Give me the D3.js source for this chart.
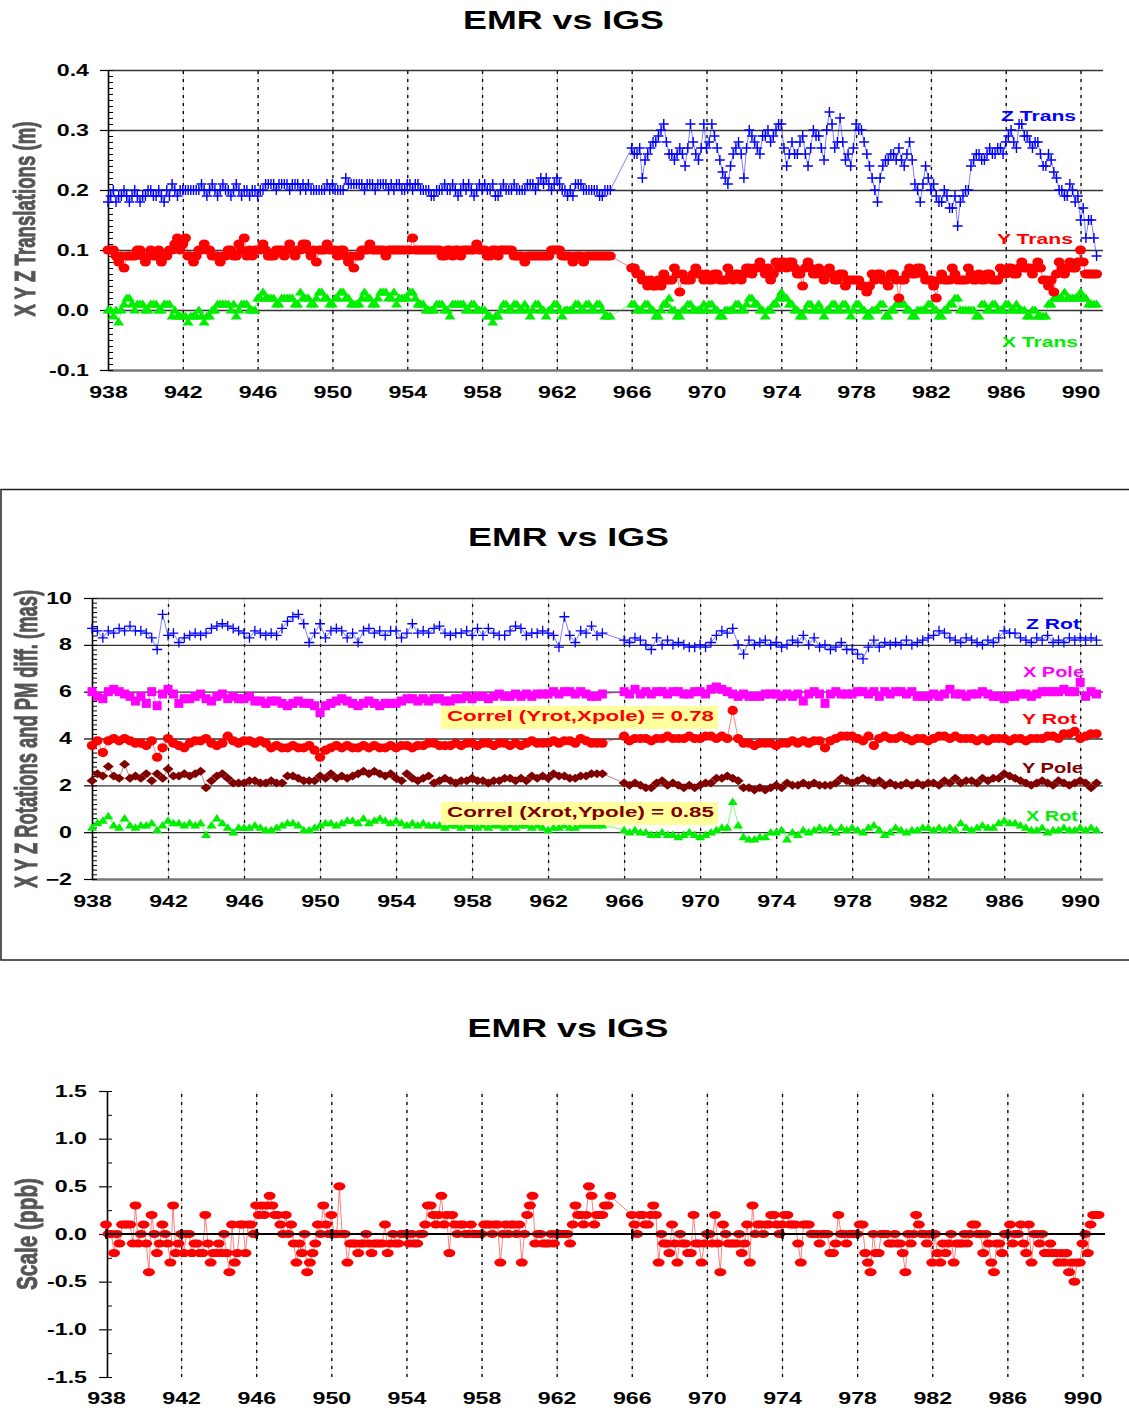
<!DOCTYPE html>
<html>
<head>
<meta charset="utf-8">
<script src="https://cdn.jsdelivr.net/npm/d3@7"></script>
<style>
  body { margin: 0; background: #fff; }
  svg  { display: block; }
</style>
</head>
<body>
<svg id="chart" width="1129" height="1410"></svg>
<script>
'use strict';

// ── Data (GPS week axis; two segments, 938.0–964.9 and 966.0–990.9) ──
const SEG_START = [938, 966];
const DAILY     = 1 / 7;   // translations and scale: one value per day
const BIDAILY   = 2 / 7;   // rotations: one value every 2 days

const weekTicks  = [938, 942, 946, 950, 954, 958, 962, 966, 970, 974, 978, 982, 986, 990];
const transTicks = [-0.1, 0.0, 0.1, 0.2, 0.3, 0.4];
const rotTicks   = [-2, 0, 2, 4, 6, 8, 10];
const scaleTicks = [-1.5, -1.0, -0.5, 0.0, 0.5, 1.0, 1.5];

// translations (m), daily
const zTrans = [
  [0.18,0.19,0.20,0.18,0.19,0.19,0.20,0.19,0.18,0.19,0.20,0.19,0.18,0.19,0.19,0.20,0.20,0.19,0.19,0.20,0.19,0.18,0.20,0.19,0.21,0.20,0.19,0.20,
   0.20,0.20,0.20,0.20,0.20,0.20,0.20,0.21,0.20,0.19,0.20,0.21,0.20,0.19,0.20,0.21,0.20,0.20,0.19,0.20,0.21,0.20,0.19,0.20,0.20,0.19,0.20,0.20,
   0.19,0.20,0.20,0.21,0.21,0.21,0.21,0.20,0.21,0.21,0.21,0.21,0.20,0.21,0.21,0.21,0.20,0.21,0.20,0.21,0.20,0.20,0.20,0.20,0.20,0.20,0.21,0.20,
   0.21,0.20,0.20,0.20,0.20,0.22,0.21,0.21,0.21,0.21,0.21,0.21,0.20,0.21,0.21,0.21,0.20,0.21,0.21,0.21,0.21,0.20,0.21,0.20,0.21,0.21,0.20,0.20,
   0.21,0.21,0.20,0.21,0.21,0.20,0.20,0.20,0.20,0.19,0.19,0.20,0.20,0.20,0.21,0.20,0.20,0.21,0.20,0.19,0.20,0.21,0.20,0.21,0.20,0.19,0.20,0.21,
   0.20,0.21,0.20,0.20,0.21,0.19,0.19,0.20,0.21,0.20,0.20,0.20,0.21,0.20,0.20,0.20,0.20,0.21,0.21,0.21,0.20,0.21,0.22,0.21,0.22,0.21,0.20,0.21,
   0.22,0.21,0.20,0.20,0.19,0.20,0.19,0.21,0.21,0.21,0.20,0.20,0.20,0.20,0.20,0.20,0.19,0.19,0.20,0.20,0.20],
  [0.27,0.26,0.26,0.27,0.22,0.25,0.26,0.27,0.28,0.28,0.29,0.30,0.31,0.28,0.26,0.26,0.25,0.26,0.27,0.26,0.24,0.27,0.31,0.28,0.26,0.25,0.27,0.31,
   0.27,0.28,0.31,0.29,0.27,0.25,0.23,0.22,0.21,0.24,0.26,0.27,0.28,0.26,0.22,0.27,0.30,0.29,0.28,0.27,0.26,0.29,0.29,0.30,0.28,0.29,0.30,0.31,
   0.31,0.27,0.24,0.26,0.28,0.26,0.26,0.28,0.29,0.26,0.24,0.27,0.30,0.29,0.29,0.27,0.25,0.30,0.33,0.31,0.27,0.28,0.32,0.28,0.25,0.26,0.24,0.27,
   0.31,0.30,0.30,0.28,0.26,0.24,0.22,0.20,0.18,0.22,0.24,0.25,0.25,0.26,0.26,0.25,0.27,0.25,0.24,0.26,0.28,0.25,0.21,0.20,0.18,0.21,0.24,0.22,
   0.20,0.21,0.19,0.18,0.18,0.20,0.19,0.17,0.17,0.19,0.14,0.18,0.19,0.20,0.20,0.24,0.25,0.26,0.26,0.25,0.25,0.26,0.27,0.26,0.26,0.27,0.27,0.26,
   0.28,0.29,0.30,0.28,0.27,0.31,0.31,0.29,0.29,0.28,0.27,0.28,0.28,0.26,0.24,0.24,0.26,0.25,0.23,0.22,0.20,0.20,0.19,0.19,0.21,0.20,0.18,0.19,
   0.15,0.17,0.12,0.15,0.15,0.12,0.09]
];
const yTrans = [
  [0.10,0.10,0.10,0.09,0.08,0.09,0.07,0.09,0.09,0.09,0.09,0.10,0.10,0.09,0.08,0.09,0.10,0.09,0.09,0.10,0.08,0.09,0.09,0.10,0.10,0.11,0.12,0.10,
   0.11,0.12,0.09,0.09,0.08,0.09,0.10,0.10,0.11,0.10,0.10,0.09,0.09,0.09,0.08,0.09,0.09,0.10,0.10,0.09,0.09,0.11,0.10,0.12,0.09,0.10,0.09,0.10,
   0.10,0.10,0.11,0.10,0.09,0.09,0.09,0.10,0.10,0.10,0.09,0.10,0.11,0.10,0.09,0.10,0.10,0.11,0.11,0.10,0.09,0.10,0.08,0.10,0.10,0.10,0.11,0.10,
   0.10,0.10,0.09,0.10,0.10,0.09,0.08,0.09,0.07,0.09,0.09,0.10,0.10,0.10,0.11,0.10,0.10,0.10,0.10,0.10,0.09,0.10,0.10,0.10,0.10,0.10,0.10,0.10,
   0.10,0.10,0.12,0.10,0.10,0.10,0.10,0.10,0.10,0.10,0.10,0.10,0.10,0.09,0.09,0.10,0.10,0.09,0.10,0.10,0.09,0.10,0.10,0.10,0.10,0.10,0.11,0.10,
   0.10,0.10,0.09,0.09,0.10,0.10,0.09,0.10,0.10,0.10,0.10,0.10,0.09,0.09,0.09,0.09,0.08,0.09,0.09,0.09,0.09,0.09,0.09,0.09,0.09,0.09,0.10,0.10,
   0.10,0.10,0.09,0.09,0.09,0.09,0.08,0.09,0.09,0.09,0.08,0.09,0.09,0.09,0.09,0.09,0.09,0.09,0.09,0.09,0.09],
  [0.07,0.07,0.06,0.06,0.05,0.05,0.04,0.05,0.04,0.04,0.05,0.04,0.06,0.05,0.05,0.05,0.07,0.06,0.03,0.06,0.05,0.05,0.05,0.06,0.07,0.06,0.06,0.05,
   0.06,0.05,0.05,0.06,0.06,0.05,0.05,0.05,0.07,0.06,0.05,0.06,0.06,0.05,0.06,0.07,0.07,0.06,0.07,0.07,0.08,0.07,0.06,0.07,0.05,0.06,0.08,0.07,
   0.08,0.08,0.07,0.08,0.08,0.07,0.06,0.06,0.04,0.07,0.08,0.07,0.06,0.06,0.07,0.06,0.05,0.06,0.07,0.06,0.05,0.05,0.06,0.06,0.04,0.05,0.05,0.05,
   0.05,0.05,0.04,0.04,0.03,0.04,0.06,0.05,0.06,0.06,0.05,0.05,0.04,0.06,0.06,0.05,0.02,0.05,0.05,0.06,0.07,0.06,0.06,0.07,0.07,0.06,0.05,0.05,
   0.05,0.04,0.02,0.05,0.06,0.05,0.05,0.05,0.07,0.06,0.05,0.05,0.05,0.05,0.07,0.06,0.05,0.05,0.06,0.05,0.05,0.06,0.06,0.05,0.05,0.05,0.07,0.06,
   0.06,0.07,0.07,0.06,0.06,0.07,0.08,0.07,0.07,0.07,0.06,0.07,0.08,0.07,0.05,0.05,0.04,0.05,0.03,0.06,0.08,0.07,0.06,0.07,0.08,0.07,0.07,0.08,
   0.10,0.08,0.06,0.06,0.06,0.06,0.06]
];
const xTrans = [
  [0.00,0.00,-0.01,0.00,-0.02,0.00,0.01,0.02,0.02,0.01,0.00,0.01,0.01,0.01,0.00,0.00,0.01,0.01,0.01,0.00,0.00,0.01,0.01,0.01,-0.01,0.00,-0.01,-0.01,
   -0.01,-0.01,-0.02,-0.01,-0.01,-0.01,0.00,-0.01,-0.02,-0.01,-0.01,0.00,0.00,0.01,0.01,0.01,0.01,0.01,0.00,0.01,-0.01,0.00,0.01,0.01,0.01,0.00,0.00,0.00,
   0.02,0.02,0.03,0.02,0.02,0.02,0.02,0.01,0.01,0.02,0.02,0.02,0.02,0.02,0.01,0.01,0.03,0.02,0.02,0.02,0.01,0.01,0.02,0.03,0.03,0.02,0.02,0.01,
   0.01,0.02,0.02,0.03,0.03,0.02,0.02,0.01,0.01,0.01,0.01,0.02,0.03,0.02,0.02,0.01,0.01,0.02,0.03,0.03,0.03,0.02,0.02,0.03,0.01,0.02,0.02,0.02,
   0.02,0.03,0.03,0.02,0.01,0.01,0.01,0.00,0.00,0.00,0.00,0.01,0.01,0.01,0.00,0.00,-0.01,0.01,0.01,0.01,0.01,0.01,0.00,0.00,0.01,0.01,0.00,0.00,
   0.00,0.00,-0.01,-0.01,-0.02,-0.01,-0.01,0.00,0.01,0.01,0.00,0.00,0.01,0.01,0.00,0.00,0.01,0.00,-0.01,0.00,0.01,0.01,0.00,0.00,-0.01,0.00,0.00,0.01,
   0.01,0.00,-0.01,0.00,0.00,0.00,0.00,0.01,0.01,0.00,0.00,0.01,0.01,0.00,0.00,0.01,0.01,0.00,-0.01,-0.01,-0.01],
  [0.01,0.01,0.00,0.00,0.00,0.01,0.01,0.00,0.00,-0.01,-0.01,0.00,0.01,0.01,0.02,0.00,0.00,-0.01,-0.01,0.00,0.00,0.01,0.01,0.00,0.00,0.00,0.00,0.01,
   0.00,0.01,0.01,0.00,0.00,-0.01,-0.01,0.00,0.00,0.00,0.00,0.01,0.01,0.00,0.00,0.01,0.02,0.02,0.01,0.01,0.00,0.00,-0.01,0.00,0.00,0.01,0.01,0.02,
   0.03,0.02,0.02,0.01,0.01,0.00,0.00,-0.01,-0.01,0.00,0.01,0.01,0.00,0.00,0.01,0.00,-0.01,0.00,0.00,0.01,0.01,0.00,0.00,0.01,0.01,0.00,-0.01,0.00,
   0.01,0.01,0.00,0.00,-0.01,-0.01,0.00,0.00,0.00,0.01,0.01,-0.01,-0.01,0.00,0.00,0.01,0.01,0.01,0.01,0.00,0.00,-0.01,-0.01,0.00,0.00,0.00,0.00,0.01,
   0.01,0.00,0.00,-0.01,-0.01,0.00,0.00,0.01,0.01,0.02,0.02,0.00,0.00,0.00,0.00,0.00,0.00,-0.01,-0.01,0.01,0.01,0.00,0.00,0.01,0.01,0.00,0.00,0.00,
   0.01,0.01,0.00,0.00,0.01,0.00,0.00,0.00,-0.01,-0.01,0.00,0.00,-0.01,-0.01,-0.01,-0.01,0.01,0.01,0.02,0.02,0.02,0.02,0.03,0.02,0.02,0.02,0.02,0.02,
   0.03,0.02,0.02,0.01,0.01,0.01,0.01]
];

// rotations and pole differences (mas), every 2 days
const zRot = [
  [8.7,8.6,8.3,8.6,8.5,8.7,8.6,8.8,8.6,8.6,8.5,8.3,7.8,9.3,
   8.4,8.5,8.1,8.3,8.4,8.5,8.4,8.5,8.7,8.8,8.9,8.8,8.7,8.6,
   8.5,8.3,8.6,8.5,8.4,8.5,8.4,8.7,9.0,9.2,9.3,8.9,8.1,8.5,
   8.9,8.3,8.6,8.7,8.6,8.3,8.5,8.1,8.6,8.7,8.5,8.6,8.4,8.6,
   8.6,8.3,8.5,8.9,8.5,8.6,8.5,8.7,8.8,8.5,8.4,8.5,8.5,8.6,
   8.4,8.7,8.4,8.7,8.5,8.4,8.4,8.6,8.8,8.7,8.4,8.5,8.5,8.6,
   8.5,8.4,7.9,9.2,8.4,8.1,8.6,8.5,8.8,8.4,8.5],
  [8.2,8.1,8.3,8.2,8.0,7.8,8.3,8.0,8.2,8.0,8.1,8.0,7.9,7.9,
   8.0,7.9,8.1,8.4,8.6,8.5,8.7,8.0,7.6,8.2,8.0,8.1,8.2,8.0,
   8.1,7.9,8.0,8.2,8.1,8.4,8.0,8.3,7.9,8.0,7.8,7.9,8.1,7.8,
   7.8,7.6,7.4,7.9,8.2,7.9,8.1,8.0,8.1,8.0,8.2,8.0,8.1,8.2,
   8.3,8.4,8.6,8.5,8.3,8.2,8.1,8.3,8.2,8.1,8.0,8.2,8.1,8.3,
   8.6,8.5,8.5,8.3,8.2,8.1,8.3,8.2,8.4,8.1,8.2,8.1,8.3,8.2,
   8.3,8.2,8.3,8.2]
];
const xPole = [
  [6.0,5.8,5.7,6.0,6.1,6.0,5.9,5.8,5.6,5.8,5.5,6.0,5.4,5.9,
   6.1,5.9,5.5,5.7,5.7,5.8,5.9,5.7,5.6,5.8,5.9,5.7,5.8,5.7,
   5.7,5.8,5.6,5.6,5.5,5.6,5.6,5.5,5.4,5.5,5.6,5.5,5.5,5.4,
   5.1,5.4,5.5,5.6,5.7,5.6,5.5,5.4,5.5,5.6,5.5,5.4,5.5,5.5,
   5.5,5.6,5.7,5.7,5.6,5.7,5.6,5.7,5.7,5.6,5.6,5.7,5.7,5.8,
   5.7,5.8,5.8,5.7,5.8,5.9,5.8,5.8,5.9,5.8,5.9,5.8,5.9,5.9,
   5.9,6.0,5.9,6.0,6.0,5.9,6.0,5.9,5.8,5.8,5.9],
  [6.0,5.9,6.1,5.9,6.0,5.9,6.0,6.0,5.9,6.0,6.0,5.9,5.9,6.0,
   6.0,5.9,6.1,6.2,6.1,6.0,5.9,5.8,5.9,5.8,5.8,5.8,5.9,5.9,
   5.9,5.8,5.9,5.8,5.9,5.6,5.9,6.0,5.9,5.5,5.9,6.0,5.9,5.9,
   5.9,6.0,6.0,5.9,6.0,5.8,6.0,5.9,6.0,6.0,5.9,6.0,5.8,5.8,
   5.8,5.9,5.8,5.9,6.1,5.9,5.9,5.8,5.9,5.9,6.0,5.9,5.8,5.8,
   5.7,5.8,5.8,5.9,5.9,5.8,5.9,6.0,6.0,6.0,6.0,6.1,6.0,6.0,
   6.4,5.8,6.0,5.9]
];
const yRot = [
  [3.7,3.9,3.4,3.9,4.0,3.9,4.0,3.9,3.8,3.8,3.7,3.9,3.2,3.6,
   4.0,3.8,3.7,3.6,3.8,3.9,3.9,4.0,3.8,3.7,3.8,4.1,3.9,3.8,
   3.9,3.9,3.8,3.9,3.8,3.6,3.7,3.6,3.6,3.7,3.6,3.6,3.7,3.5,
   3.2,3.5,3.6,3.7,3.6,3.7,3.6,3.6,3.7,3.6,3.7,3.6,3.6,3.7,
   3.6,3.7,3.7,3.6,3.7,3.7,3.8,3.8,3.7,3.7,3.7,3.8,3.7,3.8,
   3.8,3.7,3.8,3.8,3.7,3.8,3.8,3.7,3.8,3.7,3.8,3.9,3.8,3.8,
   3.8,3.9,3.8,3.9,3.9,3.8,4.0,3.9,3.8,3.8,3.8],
  [4.1,3.9,4.0,4.0,4.0,3.9,4.0,4.0,4.1,4.0,4.0,4.0,4.1,4.0,
   4.0,4.1,4.1,4.0,4.1,4.0,5.2,4.0,3.8,3.8,3.7,3.8,3.8,3.8,
   3.7,3.8,3.8,3.9,3.8,3.9,3.8,3.9,3.9,3.6,3.9,4.0,4.1,4.1,
   4.1,4.0,3.9,4.1,3.7,4.0,4.1,4.0,4.0,4.1,4.0,3.9,4.0,4.0,
   3.9,4.0,4.1,4.1,4.0,4.1,4.0,4.0,4.0,3.9,4.0,3.9,4.0,4.0,
   4.0,3.9,4.0,4.0,3.9,4.0,4.0,4.0,4.1,4.1,4.0,4.2,4.2,4.3,
   4.0,4.1,4.2,4.2]
];
const yPole = [
  [2.2,2.5,2.4,2.8,2.4,2.3,2.9,2.3,2.4,2.3,2.5,2.2,2.5,2.3,
   2.7,2.4,2.4,2.5,2.4,2.5,2.6,1.9,2.2,2.4,2.5,2.3,2.1,2.1,
   2.1,2.2,2.2,2.1,2.1,2.2,2.1,2.1,2.4,2.4,2.3,2.2,2.2,2.2,
   2.4,2.3,2.5,2.3,2.4,2.3,2.4,2.5,2.6,2.5,2.6,2.5,2.4,2.5,
   2.3,2.2,2.5,2.3,2.2,2.3,2.4,2.1,2.2,2.3,2.2,2.1,2.2,2.2,
   2.3,2.2,2.2,2.1,2.2,2.2,2.3,2.3,2.2,2.3,2.2,2.4,2.3,2.4,
   2.3,2.5,2.4,2.4,2.3,2.3,2.4,2.4,2.5,2.5,2.5],
  [2.1,2.0,2.1,2.0,1.9,1.9,2.1,2.2,2.0,2.1,2.0,1.9,2.0,1.9,
   2.0,2.1,2.1,2.3,2.3,2.4,2.3,2.2,1.9,1.9,1.8,1.9,1.8,1.9,
   2.0,1.9,2.1,2.0,2.0,2.1,2.0,2.1,2.0,2.0,2.0,2.1,2.3,2.2,
   2.1,2.2,2.3,2.2,2.1,2.2,2.0,2.1,2.0,2.0,2.1,2.0,2.1,2.0,
   2.1,2.1,2.0,2.2,2.1,2.3,2.1,2.2,2.2,2.1,2.3,2.2,2.3,2.3,
   2.5,2.4,2.3,2.2,2.1,2.0,2.1,2.2,2.1,2.0,2.2,2.1,2.0,2.1,
   2.2,2.1,1.9,2.1]
];
const xRot = [
  [0.2,0.4,0.5,0.7,0.3,0.2,0.6,0.3,0.2,0.3,0.3,0.4,0.1,0.3,
   0.5,0.4,0.4,0.3,0.4,0.3,0.4,-0.1,0.3,0.6,0.4,0.2,0.0,0.2,
   0.2,0.2,0.3,0.2,0.1,0.1,0.2,0.3,0.4,0.4,0.3,0.1,0.1,0.2,
   0.3,0.4,0.4,0.3,0.4,0.5,0.5,0.4,0.6,0.4,0.5,0.6,0.5,0.4,
   0.5,0.4,0.3,0.4,0.3,0.4,0.3,0.3,0.3,0.2,0.3,0.3,0.2,0.3,
   0.3,0.2,0.3,0.2,0.3,0.3,0.2,0.3,0.2,0.3,0.3,0.2,0.3,0.2,
   0.1,0.2,0.2,0.3,0.2,0.2,0.3,0.3,0.3,0.3,0.3],
  [0.1,0.0,0.1,0.0,0.0,-0.1,-0.1,0.0,-0.1,-0.1,-0.2,-0.1,0.0,-0.1,
   -0.2,-0.1,0.0,0.1,0.2,0.2,1.3,0.3,-0.2,-0.3,-0.3,-0.2,-0.2,0.0,
   0.0,0.1,-0.3,0.0,-0.1,0.1,0.0,0.1,0.2,0.1,0.2,0.0,0.2,0.1,
   0.2,0.1,0.0,0.2,0.3,0.1,-0.1,0.0,0.2,0.1,0.0,0.1,0.1,0.2,
   0.2,0.1,0.2,0.1,0.2,0.1,0.4,0.2,0.1,0.2,0.3,0.2,0.2,0.4,
   0.5,0.4,0.4,0.3,0.2,0.1,0.1,0.2,0.0,0.1,0.1,0.2,0.1,0.1,
   0.2,0.1,0.2,0.1]
];

// scale (ppb), daily
const scalePpb = [
  [0.1,0.0,0.0,-0.2,0.0,-0.1,0.1,0.1,0.1,0.1,-0.1,0.3,-0.1,0.0,0.1,-0.1,-0.4,0.2,0.0,-0.2,-0.1,0.1,0.0,-0.1,-0.3,0.3,-0.2,-0.1,
   0.0,-0.2,0.0,0.0,-0.2,-0.1,-0.1,-0.2,-0.2,0.2,-0.1,-0.3,-0.2,-0.2,-0.1,-0.2,0.0,-0.2,-0.4,0.1,-0.3,-0.2,0.1,0.1,-0.2,0.1,0.1,0.0,
   0.3,0.2,0.3,0.2,0.3,0.4,0.3,0.2,0.2,0.1,0.0,0.2,0.0,0.1,-0.1,-0.3,-0.1,-0.2,0.0,-0.4,-0.3,-0.2,-0.1,0.1,0.0,0.3,0.1,0.0,
   0.2,0.0,0.0,0.5,0.0,0.0,-0.3,-0.1,-0.1,-0.1,-0.2,-0.1,-0.1,0.0,-0.1,-0.2,-0.1,-0.1,-0.1,-0.1,0.1,-0.2,-0.1,0.0,-0.1,-0.1,0.0,0.0,
   0.0,-0.1,0.0,-0.1,-0.1,0.0,0.0,0.1,0.3,0.3,0.2,0.1,0.2,0.4,0.1,0.2,-0.2,0.2,0.1,0.0,0.1,0.1,0.0,0.0,0.1,0.0,0.0,0.0,
   0.0,0.1,0.1,0.1,0.0,0.1,0.1,-0.3,0.0,0.1,0.0,0.1,0.1,0.0,0.1,-0.3,0.0,0.2,0.3,0.4,-0.1,0.0,0.0,-0.1,-0.1,-0.1,0.0,-0.1,
   0.0,0.0,0.0,0.0,0.0,-0.1,0.1,0.3,0.2,0.2,0.1,0.2,0.5,0.4,0.1,0.2,0.2,0.2,0.3,0.3,0.4],
  [0.2,0.1,0.0,0.2,0.2,0.1,0.1,0.2,0.3,0.2,-0.3,0.0,-0.1,-0.1,-0.2,0.1,-0.1,-0.3,0.0,-0.1,-0.1,-0.2,-0.2,0.2,-0.1,-0.1,-0.3,-0.1,
   0.0,0.0,-0.1,0.2,-0.1,-0.4,0.1,0.0,-0.1,-0.1,-0.1,-0.1,0.0,-0.2,-0.1,0.1,-0.3,0.3,0.0,0.1,0.1,0.0,0.1,0.1,0.2,0.2,0.1,0.0,
   0.1,0.2,0.2,0.1,0.1,0.1,-0.1,-0.3,0.1,0.1,0.1,0.0,0.0,0.0,-0.1,0.0,0.0,0.0,-0.2,-0.2,-0.1,0.2,0.0,0.0,-0.1,0.0,0.0,0.0,
   0.0,0.1,0.1,-0.2,-0.3,-0.4,0.0,-0.2,-0.2,0.0,0.0,0.0,-0.1,-0.1,0.0,-0.1,-0.1,-0.2,-0.4,0.0,-0.1,0.0,0.2,0.1,0.0,0.0,-0.1,0.0,
   -0.3,0.0,-0.2,-0.3,-0.1,-0.2,-0.1,0.0,-0.3,-0.1,-0.1,-0.1,0.0,-0.1,0.0,0.1,0.1,0.0,0.0,-0.2,0.0,-0.1,-0.3,-0.4,-0.1,-0.1,-0.2,0.0,
   0.0,0.1,-0.1,0.0,0.0,0.1,-0.1,-0.2,0.1,-0.3,0.0,0.0,-0.1,0.0,-0.2,-0.2,-0.1,-0.2,-0.2,-0.3,-0.2,-0.3,-0.2,-0.4,-0.3,-0.5,-0.3,-0.3,
   -0.1,0.0,-0.2,0.1,0.2,0.2,0.2]
];

// ── Styling constants ───────────────────────────────────────────
const FONT   = '"Liberation Sans", Arial, Helvetica, sans-serif';
const NARROW = '"Liberation Sans Narrow", "Arial Narrow", "Liberation Sans", sans-serif';
const BLUE = '#0000ff', RED = '#ff0000', GREEN = '#00ee00', MAGENTA = '#ff00ff', MAROON = '#800000';
const STRETCH = 1.45;   // tick labels in the original are horizontally widened

const MARK = {
  plus:    r => `M${-r},0H${r}M0,${-r}V${r}`,
  oval:    (rx, ry) => `M${-rx},0a${rx},${ry} 0 1,0 ${2 * rx},0a${rx},${ry} 0 1,0 ${-2 * rx},0Z`,
  tri:     (hw, h) => `M0,${-h * 0.55}L${hw},${h * 0.45}L${-hw},${h * 0.45}Z`,
  square:  r => `M${-r},${-r}H${r}V${r}H${-r}Z`,
  diamond: (hw, hh) => `M0,${-hh}L${hw},0L0,${hh}L${-hw},0Z`,
};

const svg = d3.select('#chart');

svg.append('defs').append('filter').attr('id', 'soft')
  .append('feGaussianBlur').attr('stdDeviation', 0.7);

function toPoints(segs, step) {
  return segs.flatMap((vals, s) => vals.map((v, i) => ({ w: SEG_START[s] + i * step, v })));
}

// ── Helpers ─────────────────────────────────────────────────────
function styleAxisText(g, size) {
  g.attr('font-family', FONT).attr('font-size', size).attr('font-weight', 'bold');
  g.selectAll('text').attr('fill', '#000').each(function() {
    const t = d3.select(this);
    const x = +t.attr('x') || 0;
    t.attr('x', x / STRETCH).attr('transform', `scale(${STRETCH},1)`);
  });
}

function vGrid(parent, x, top, bottom) {
  const g = parent.append('g').attr('transform', `translate(0,${bottom})`)
    .call(d3.axisBottom(x).tickValues(weekTicks.slice(1)).tickSize(-(bottom - top)).tickFormat(''));
  g.select('.domain').remove();
  g.selectAll('.tick line').attr('stroke', '#cfcfcf').attr('stroke-width', 1);
  g.selectAll('.tick').append('line')
    .attr('y2', -(bottom - top))
    .attr('stroke', '#000').attr('stroke-width', 1.3).attr('stroke-dasharray', '3,5');
}

function hGrid(parent, y, ticks, left, right, bottomVal) {
  const g = parent.append('g').attr('transform', `translate(${left},0)`)
    .call(d3.axisLeft(y).tickValues(ticks).tickSize(-(right - left)).tickFormat(''));
  g.select('.domain').remove();
  g.selectAll('.tick line')
    .attr('stroke', d => d === bottomVal ? '#777' : '#333')
    .attr('stroke-width', d => d === bottomVal ? 2.5 : 1.3);
}

function yAxis(parent, y, ticks, minorTicks, left, fmt, gap) {
  parent.append('g').attr('transform', `translate(${left},0)`)
    .call(d3.axisLeft(y).tickValues(minorTicks).tickSize(-5).tickFormat(''))
    .call(g => g.select('.domain').remove())
    .selectAll('line').attr('stroke', '#000');
  const g = parent.append('g').attr('transform', `translate(${left},0)`)
    .call(d3.axisLeft(y).tickValues(ticks).tickFormat(fmt)
      .tickSizeInner(8).tickSizeOuter(0).tickPadding(gap - 8));
  g.select('.domain').attr('stroke', '#000').attr('stroke-width', 1.6);
  g.selectAll('.tick line').attr('stroke', '#000').attr('stroke-width', 1.2);
  styleAxisText(g, 16);
}

function xLabels(parent, x, bottom, offset) {
  const g = parent.append('g').attr('transform', `translate(0,${bottom})`)
    .call(d3.axisBottom(x).tickValues(weekTicks).tickSize(0).tickFormat(d3.format('d')));
  g.select('.domain').remove();
  g.selectAll('text').attr('y', offset).attr('dy', null);
  styleAxisText(g, 16);
}

function plotSeries(parent, x, y, segs, step, opt) {
  const pts = toPoints(segs, step);
  parent.append('path').datum(pts)
    .attr('d', d3.line().x(d => x(d.w)).y(d => y(d.v)))
    .attr('fill', 'none')
    .attr('stroke', opt.color).attr('stroke-opacity', 0.5).attr('stroke-width', 1);
  parent.append('g').selectAll('path')
    .data(pts)
    .join('path')
      .attr('transform', d => `translate(${x(d.w)},${y(d.v)})`)
      .attr('d', opt.shape)
      .attr('fill', opt.stroke ? 'none' : opt.color)
      .attr('stroke', opt.stroke ? opt.color : 'none')
      .attr('stroke-width', opt.stroke || 0);
}

function title(cx, baseline) {
  svg.append('text')
    .attr('x', cx).attr('y', baseline).attr('text-anchor', 'middle')
    .attr('font-family', FONT).attr('font-weight', 'bold').attr('font-size', 25)
    .attr('textLength', 201).attr('lengthAdjust', 'spacingAndGlyphs')
    .text('EMR vs IGS');
}

function yTitle(text, bx, cy, len, size) {
  svg.append('text')
    .attr('transform', `translate(${bx},${cy}) rotate(-90)`)
    .attr('text-anchor', 'middle')
    .attr('font-family', NARROW).attr('font-weight', 'bold').attr('font-size', size)
    .attr('fill', '#555').attr('stroke', '#555').attr('stroke-width', 0.9)
    .attr('filter', 'url(#soft)')
    .attr('textLength', len).attr('lengthAdjust', 'spacingAndGlyphs')
    .text(text);
}

function label(parent, text, x, baseline, width, color, size) {
  parent.append('text')
    .attr('x', x).attr('y', baseline)
    .attr('font-family', FONT).attr('font-weight', 'bold').attr('font-size', size || 15)
    .attr('fill', color)
    .attr('textLength', width).attr('lengthAdjust', 'spacingAndGlyphs')
    .text(text);
}

// ── Panel 1: translations ───────────────────────────────────────
{
  const L = 108, R = 1103, T = 70, B = 370;
  const x = d3.scaleLinear().domain([938, 991.2]).range([L, R]);
  const y = d3.scaleLinear().domain([-0.1, 0.4]).range([B, T]);
  const g = svg.append('g');

  vGrid(g, x, T, B);
  hGrid(g, y, transTicks, L, R, -0.1);
  yAxis(g, y, transTicks, d3.range(-10, 41).map(i => i / 100), L, d => d.toFixed(1), 19);
  xLabels(g, x, B, 28);

  plotSeries(g, x, y, xTrans, DAILY, { color: GREEN, shape: MARK.tri(5.5, 8) });
  plotSeries(g, x, y, yTrans, DAILY, { color: RED,   shape: MARK.oval(5.5, 4.5) });
  plotSeries(g, x, y, zTrans, DAILY, { color: BLUE,  shape: MARK.plus(5), stroke: 1.4 });

  label(g, 'Z Trans', 1001, 121, 75, BLUE);
  label(g, 'Y Trans', 997, 244, 76, RED);
  label(g, 'X Trans', 1002, 347, 76, GREEN);

  title(563.5, 29);
  yTitle('X Y Z Translations (m)', 35, 219, 195, 30);
}

// ── Panel 2: rotations and pole differences ─────────────────────
{
  svg.append('rect')
    .attr('x', 1).attr('y', 489.5).attr('width', 1140).attr('height', 470.5)
    .attr('fill', 'none').attr('stroke', '#222').attr('stroke-width', 1.5);

  const L = 92, R = 1103, T = 598, B = 879;
  const x = d3.scaleLinear().domain([938, 991.2]).range([L, R]);
  const y = d3.scaleLinear().domain([-2, 10]).range([B, T]);
  const g = svg.append('g');

  vGrid(g, x, T, B);
  hGrid(g, y, rotTicks, L, R, -2);
  yAxis(g, y, rotTicks, d3.range(-10, 51).map(i => i / 5), L, d3.format('d'), 20);
  xLabels(g, x, B, 28);

  plotSeries(g, x, y, xRot,  BIDAILY, { color: GREEN,   shape: MARK.tri(5, 7.5) });
  plotSeries(g, x, y, yPole, BIDAILY, { color: MAROON,  shape: MARK.diamond(5.5, 4.5) });
  plotSeries(g, x, y, yRot,  BIDAILY, { color: RED,     shape: MARK.oval(5.2, 4.6) });
  plotSeries(g, x, y, xPole, BIDAILY, { color: MAGENTA, shape: MARK.square(4.5) });
  plotSeries(g, x, y, zRot,  BIDAILY, { color: BLUE,    shape: MARK.plus(5), stroke: 1.3 });

  label(g, 'Z Rot',  1026, 629, 54, BLUE);
  label(g, 'X Pole', 1023, 677, 61, MAGENTA);
  label(g, 'Y Rot',  1022, 724, 55, RED);
  label(g, 'Y Pole', 1022, 773, 61, MAROON);
  label(g, 'X Rot',  1026, 821, 52, GREEN);

  g.append('rect').attr('x', 441).attr('y', 706).attr('width', 277).attr('height', 23).attr('fill', '#ffff9c');
  label(g, 'Correl (Yrot,Xpole) = 0.78', 447, 721, 267, RED, 14);
  g.append('rect').attr('x', 441).attr('y', 802).attr('width', 277).attr('height', 23).attr('fill', '#ffff9c');
  label(g, 'Correl (Xrot,Ypole) = 0.85', 447, 817, 267, MAROON, 14);

  title(568.5, 546);
  yTitle('X Y Z Rotations and PM diff. (mas)', 37, 739, 298, 32);
}

// ── Panel 3: scale ──────────────────────────────────────────────
{
  const L = 107, R = 1105, T = 1091, B = 1377;
  const x = d3.scaleLinear().domain([938, 991.2]).range([L - 1, R]);
  const y = d3.scaleLinear().domain([-1.5, 1.5]).range([B, T]);
  const g = svg.append('g');

  vGrid(g, x, T, B);
  yAxis(g, y, scaleTicks, d3.range(-6, 7).map(i => i / 4), L, d => d.toFixed(1), 20);
  xLabels(g, x, B, 27);

  plotSeries(g, x, y, scalePpb, DAILY, { color: RED, shape: MARK.oval(6, 4) });

  // x axis along zero
  const z = g.append('g').attr('transform', `translate(0,${y(0)})`)
    .call(d3.axisBottom(x).tickValues(weekTicks).tickSize(5).tickFormat(''));
  z.select('.domain').remove();
  z.selectAll('.tick line').attr('y1', -5).attr('y2', 5).attr('stroke', '#000').attr('stroke-width', 2.5);
  g.append('line')
    .attr('x1', L).attr('x2', R).attr('y1', y(0)).attr('y2', y(0))
    .attr('stroke', '#000').attr('stroke-width', 2);

  title(568, 1037);
  yTitle('Scale (ppb)', 37, 1234, 112, 30);
}
</script>
</body>
</html>
